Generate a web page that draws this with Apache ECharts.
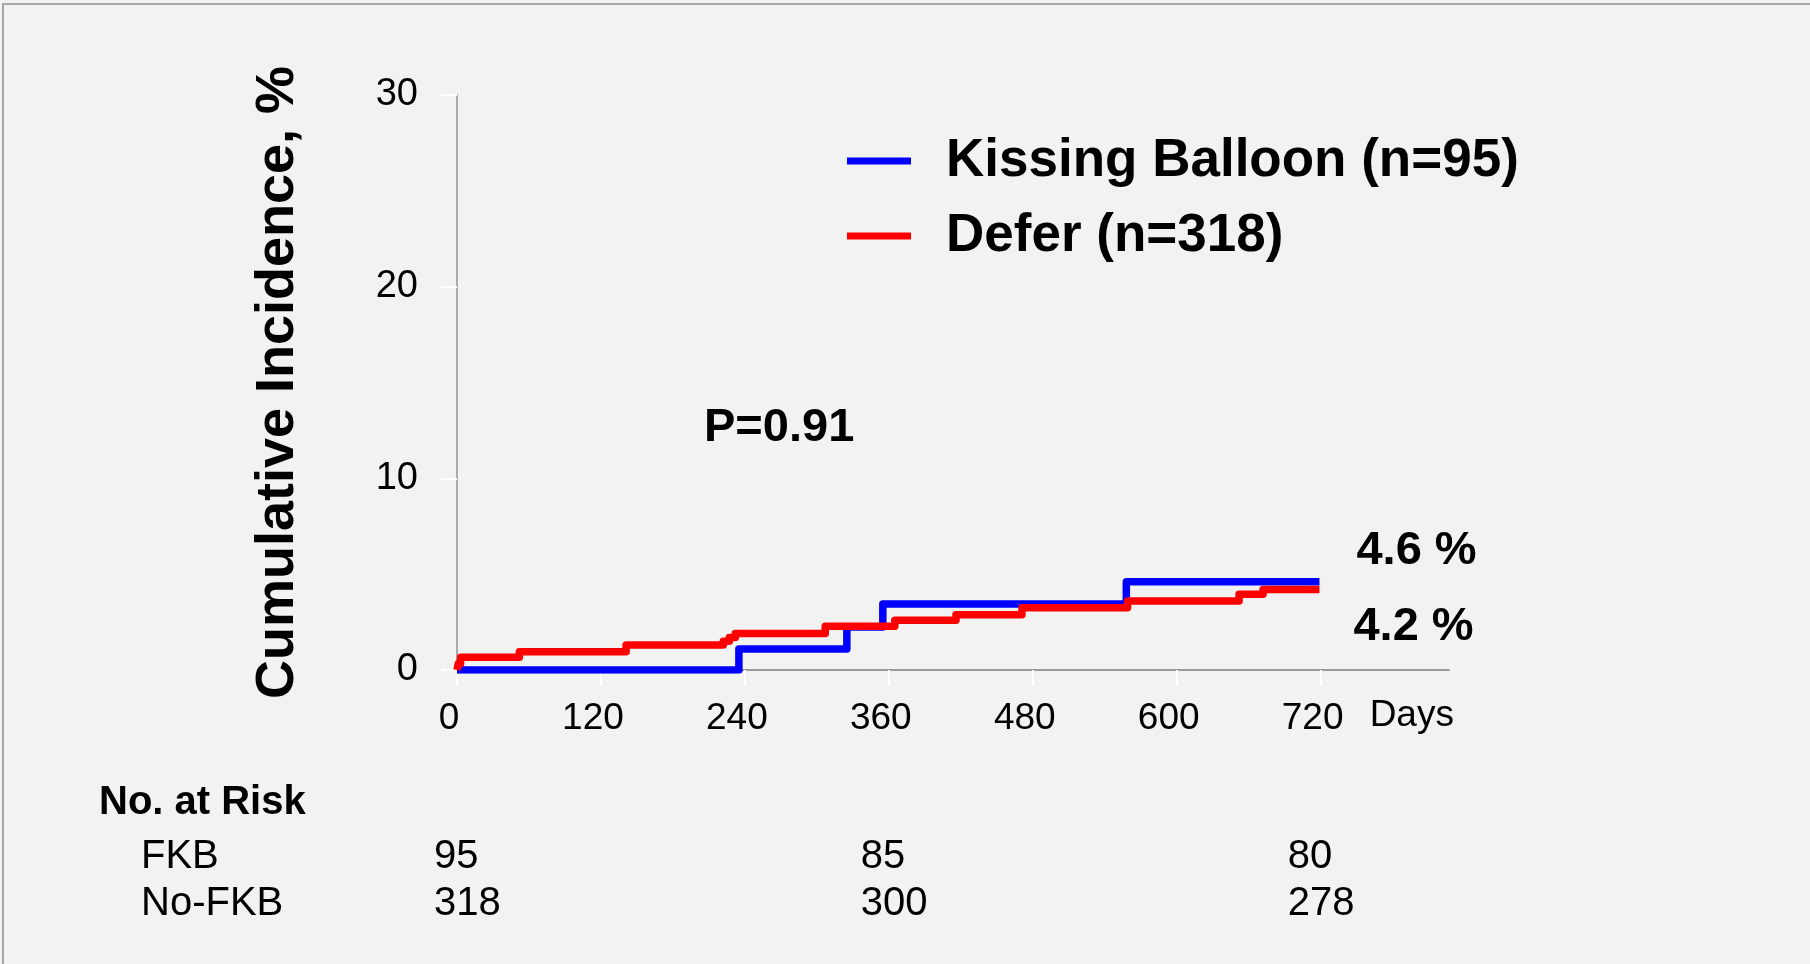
<!DOCTYPE html>
<html>
<head>
<meta charset="utf-8">
<script src="https://cdn.jsdelivr.net/npm/echarts@6/dist/echarts.min.js"></script>
<style>
  html, body { margin: 0; padding: 0; background: #f2f2f2; }
  #chart { width: 1810px; height: 964px; }
</style>
</head>
<body>
<div id="chart"></div>
<script>
// Kaplan-Meier style cumulative incidence, step curves (days, %)
const blueDays = [0, 235, 325, 355, 558, 719];
const blueVals = [0, 1.1, 2.25, 3.45, 4.6, 4.6];
const redDays = [0, 1, 3, 52, 141, 222, 227, 232, 307, 365, 416, 471, 559, 652, 672, 719];
const redVals = [0, 0.32, 0.66, 0.95, 1.30, 1.5, 1.7, 1.91, 2.28, 2.59, 2.88, 3.25, 3.60, 3.95, 4.2, 4.2];

const seriesNames = ['Kissing Balloon (n=95)', 'Defer (n=318)'];
const xTicks = [0, 120, 240, 360, 480, 600, 720];
const yTicks = [0, 10, 20, 30];

// Number at risk table
const riskDays = [0, 360, 720];
const riskRowNames = ['FKB', 'No-FKB'];
const fkbAtRisk = [95, 85, 80];
const noFkbAtRisk = [318, 300, 278];

const pValueText = 'P=0.91';
const FONT = '"Liberation Sans", Arial, Helvetica, sans-serif';

const zip = (xs, ys) => xs.map((x, i) => [x, ys[i]]);

const chart = echarts.init(document.getElementById('chart'), null, { renderer: 'canvas' });

const option = {
  backgroundColor: '#f2f2f2',
  animation: false,
  textStyle: { fontFamily: FONT },
  grid: { left: 457, top: 95, right: 361, bottom: 294, containLabel: false, outerBoundsMode: 'none' },
  legend: {
    orient: 'vertical',
    left: 842,
    top: 126,
    icon: 'rect',
    itemWidth: 64,
    itemHeight: 7,
    itemGap: 15,
    selectedMode: false,
    data: seriesNames,
    textStyle: {
      fontFamily: FONT, fontSize: 53, fontWeight: 'bold', color: '#000',
      lineHeight: 60, padding: [0, 0, 0, 30]
    }
  },
  xAxis: {
    type: 'value',
    min: 0,
    max: 827,
    interval: 120,
    splitLine: { show: false },
    axisLine: { show: true, lineStyle: { color: '#999999', width: 2 } },
    axisTick: { show: true, customValues: xTicks, length: 16, lineStyle: { color: '#ffffff', width: 2 } },
    axisLabel: {
      customValues: xTicks,
      fontFamily: FONT, fontSize: 37, color: '#000', margin: 30,
      padding: [0, 16, 0, 0]
    }
  },
  yAxis: {
    type: 'value',
    min: 0,
    max: 30,
    interval: 10,
    name: 'Cumulative Incidence, %',
    nameLocation: 'middle',
    nameRotate: 90,
    nameGap: 152,
    nameTextStyle: { fontFamily: FONT, fontSize: 54, fontWeight: 'bold', color: '#000' },
    splitLine: { show: false },
    axisLine: { show: true, lineStyle: { color: '#aaaaaa', width: 2 } },
    axisTick: { show: true, length: 16, lineStyle: { color: '#ffffff', width: 2 } },
    axisLabel: { fontFamily: FONT, fontSize: 38, color: '#000', margin: 39 }
  },
  series: [
    {
      name: seriesNames[0],
      type: 'line',
      step: 'end',
      showSymbol: false,
      symbol: 'none',
      z: 2,
      data: zip(blueDays, blueVals),
      itemStyle: { color: '#0000ff' },
      lineStyle: { color: '#0000ff', width: 7.5, join: 'round', cap: 'butt' },
      endLabel: {
        show: true,
        formatter: p => p.value[1].toFixed(1) + ' %',
        fontFamily: FONT, fontSize: 47, fontWeight: 'bold', color: '#000',
        distance: 0, offset: [37, -31]
      }
    },
    {
      name: seriesNames[1],
      type: 'line',
      step: 'end',
      showSymbol: false,
      symbol: 'none',
      z: 3,
      data: zip(redDays, redVals),
      itemStyle: { color: '#ff0000' },
      lineStyle: { color: '#ff0000', width: 7.5, join: 'round', cap: 'butt' },
      endLabel: {
        show: true,
        formatter: p => p.value[1].toFixed(1) + ' %',
        fontFamily: FONT, fontSize: 47, fontWeight: 'bold', color: '#000',
        distance: 0, offset: [34, 38]
      }
    }
  ]
};

chart.setOption(option);

// Annotation texts and the number-at-risk table, placed from the x axis scale
const xPix = d => chart.convertToPixel({ xAxisIndex: 0 }, d);
const txt = (x, y, text, size, bold, align) => ({
  type: 'text',
  x: x, y: y,
  style: {
    text: text,
    fill: '#000',
    font: (bold ? 'bold ' : '') + size + 'px ' + FONT,
    textAlign: align || 'left',
    textVerticalAlign: 'middle'
  }
});

const rowY = [857, 904];
const graphics = [
  // frame edges
  {
    type: 'polyline',
    shape: { points: [[3, 964], [3, 4], [1810, 4]] },
    style: { stroke: '#a6a6a6', lineWidth: 2, fill: null }
  },
  txt(xPix(720) + 49, 716, 'Days', 37, false, 'left'),
  txt(704, 428, pValueText, 47, true, 'left'),
  txt(99, 803, 'No. at Risk', 40, true, 'left'),
  txt(141, rowY[0], riskRowNames[0], 40, false, 'left'),
  txt(141, rowY[1], riskRowNames[1], 40, false, 'left')
];
// count columns sit just left of their day ticks
const colStep = (xPix(720) - xPix(0)) / 2 - 5;
riskDays.forEach((d, i) => {
  const x = xPix(0) - 23 + i * colStep;
  graphics.push(txt(x, rowY[0], String(fkbAtRisk[i]), 40, false, 'left'));
  graphics.push(txt(x, rowY[1], String(noFkbAtRisk[i]), 40, false, 'left'));
});

chart.setOption({ graphic: graphics });
</script>
</body>
</html>
